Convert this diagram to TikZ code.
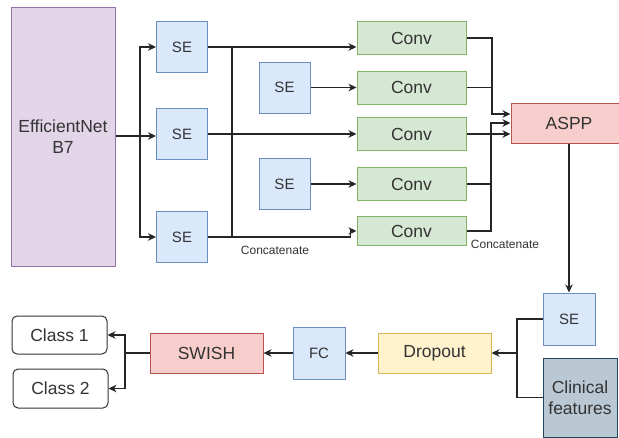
\documentclass[tikz,border=0pt]{standalone}
\usepackage{fontspec}
\setmainfont{Liberation Sans}
\usepackage{tikz}
\usetikzlibrary{arrows.meta, positioning, calc}

\definecolor{purpfill}{HTML}{E1D5E7}
\definecolor{purpline}{HTML}{9673A6}
\definecolor{bluefill}{HTML}{DAE8FC}
\definecolor{blueline}{HTML}{6C8EBF}
\definecolor{greenfill}{HTML}{D5E8D4}
\definecolor{greenline}{HTML}{82B366}
\definecolor{redfill}{HTML}{F8CECC}
\definecolor{redline}{HTML}{B85450}
\definecolor{yelfill}{HTML}{FFF2CC}
\definecolor{yelline}{HTML}{D6B656}
\definecolor{grayfill}{HTML}{BAC8D3}
\definecolor{grayline}{HTML}{23445D}
\definecolor{txt}{HTML}{333333}

\begin{document}
\begin{tikzpicture}[
        x=1pt, y=-1pt,
        block/.style={rectangle, inner sep=0pt, line width=1pt, text=txt, align=center,
        font=\fontsize{17.5}{21}\selectfont},
        backbone/.style={block, draw=purpline, fill=purpfill, minimum width=104pt, minimum height=259pt},
        sebox/.style={block, draw=blueline, fill=bluefill, minimum width=51pt, minimum height=51pt,
        font=\fontsize{15}{18}\selectfont},
        conv/.style={block, draw=greenline, fill=greenfill, minimum width=109pt, minimum height=33pt},
        redbox/.style={block, draw=redline, fill=redfill, minimum width=113pt, minimum height=40pt},
        yelbox/.style={block, draw=yelline, fill=yelfill, minimum width=113pt, minimum height=40pt},
        clin/.style={block, draw=grayline, fill=grayfill, minimum width=74pt, minimum height=79pt},
        classbox/.style={block, draw=txt, fill=white, rounded corners=5pt, minimum width=95pt, minimum height=38pt},
        note/.style={inner sep=0pt, text=txt, font=\fontsize{12}{14}\selectfont},
        line/.style={line width=1.1pt, draw=black!85},
        arrow/.style={line, -{Stealth[length=8pt, width=7.5pt, inset=2.5pt]}}
    ]

    \fill[white] (0,0) rectangle (619,437);
    \useasboundingbox (0,0) rectangle (619,437);

    % --- BACKBONE + FIRST SE COLUMN ---
    \node (eff) [backbone] at (63,136.5) {EfficientNet\\B7};
    \node (se1) [sebox] at (182,47) {SE};
    \node (se2) [sebox] at (182,134) {SE};
    \node (se3) [sebox] at (182,237) {SE};

    % --- SECOND SE COLUMN ---
    \node (sea) [sebox] at (284.5,87.5) {SE};
    \node (seb) [sebox] at (284.5,184) {SE};

    % --- CONV STACK ---
    \node (c1) [conv] at (411.5,38) {Conv};
    \node (c2) [conv] at (411.5,87.5) {Conv};
    \node (c3) [conv] at (411.5,134) {Conv};
    \node (c4) [conv] at (411.5,184) {Conv};
    \node (c5) [conv, minimum height=29pt] at (411.5,231) {Conv};

    \node (aspp) [redbox, minimum width=116pt] at (569,123) {ASPP};

    % --- HEAD ---
    \node (se4) [sebox, minimum width=52pt, minimum height=52pt] at (569,319) {SE};
    \node (cf) [clin] at (580,397.5) {Clinical\\features};
    \node (drop) [yelbox] at (434.5,353) {Dropout};
    \node (fc) [sebox, minimum width=52pt, minimum height=52pt] at (319,353) {FC};
    \node (swish) [redbox] at (206.5,353) {SWISH};
    \node (cls1) [classbox] at (59.5,335) {Class 1};
    \node (cls2) [classbox, minimum height=39pt] at (60.5,388.5) {Class 2};

    \node (cat1) [note] at (275,250) {Concatenate};
    \node (cat2) [note] at (505,244) {Concatenate};

    % --- JUNCTIONS ---
    \coordinate (split) at (140,136);
    \coordinate (catL) at (232,0);
    \coordinate (jA) at (492,114);
    \coordinate (jB) at (491,123);
    \coordinate (jC) at (517,353);
    \coordinate (jD) at (125,353);

    % --- ARROWS: backbone to SE ---
    \draw [line] (eff.east |- split) -- (split);
    \draw [arrow] (split) |- (se1.west);
    \draw [arrow] (split) -- (split -| se2.west);
    \draw [arrow] (split) |- (se3.west);

    % --- ARROWS: SE to conv ---
    \draw [line] (se1.east -| catL) -- (se3.east -| catL);
    \draw [arrow] (se1.east) -- (se1.east -| c1.west);
    \draw [arrow] (sea.east) -- (sea.east -| c2.west);
    \draw [arrow] (se2.east) -- (se2.east -| c3.west);
    \draw [arrow] (seb.east) -- (seb.east -| c4.west);
    \draw [arrow] (se3.east) -| ([xshift=-6pt]c5.west) -- (c5.west);

    % --- ARROWS: conv to ASPP ---
    \draw [arrow] (c1.east) -| (jA) -- (jA -| aspp.west);
    \draw [line] (c2.east) -| (jA);
    \draw [arrow] (c3.east) -- (c3.east -| aspp.west);
    \draw [arrow] (c4.east) -| (jB) -- (jB -| aspp.west);
    \draw [line] (c5.east) -| (jB);

    % --- HEAD ARROWS ---
    \draw [arrow] (aspp.south) -- (se4.north);
    \draw [line] (se4.west) -| (jC);
    \draw [line] (cf.west) -| (jC);
    \draw [arrow] (jC) -- (drop.east);
    \draw [arrow] (drop.west) -- (fc.east);
    \draw [arrow] (fc.west) -- (swish.east);
    \draw [line] (swish.west) -- (jD);
    \draw [arrow] (jD) |- (cls1.east);
    \draw [arrow] (jD) |- (cls2.east);

\end{tikzpicture}
\end{document}
